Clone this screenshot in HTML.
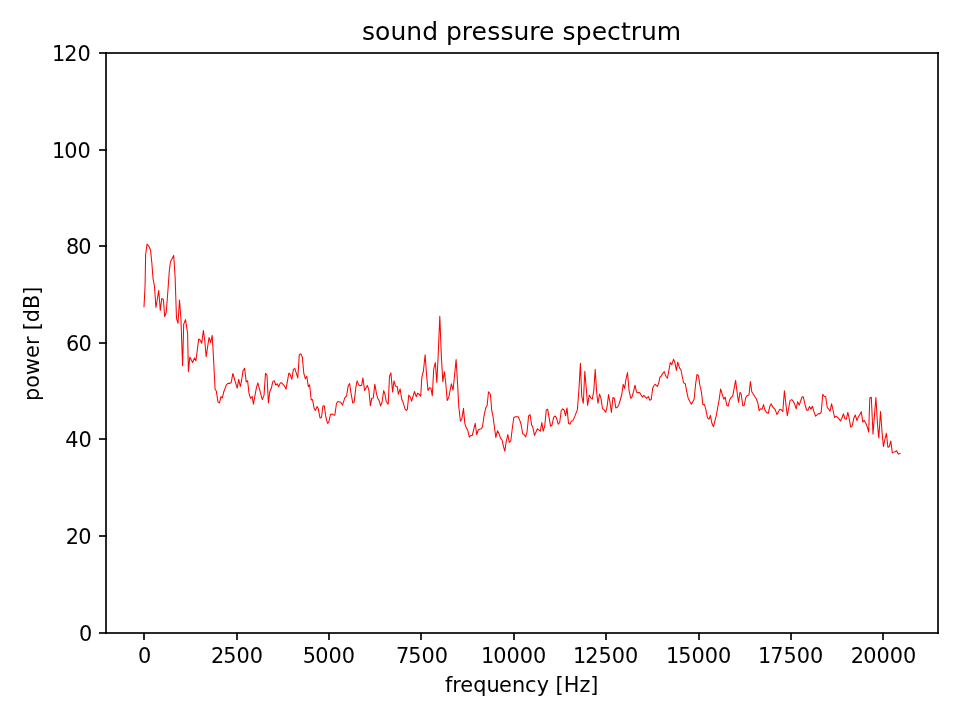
<!DOCTYPE html>
<html lang="en">
<head>
<meta charset="utf-8">
<title>sound pressure spectrum</title>
<style>
html,body{margin:0;padding:0;background:#fff;}
body{width:960px;height:720px;overflow:hidden;}
svg{display:block;}
text{font-family:"DejaVu Sans","Liberation Sans",sans-serif;fill:#000;}
.tl text,text.tl{font-size:20.833px;}
text.tt{font-size:25px;}
</style>
</head>
<body>
<svg width="960" height="720" viewBox="0 0 960 720">
<rect x="0" y="0" width="960" height="720" fill="#ffffff"/>
<g fill="rgba(0,0,0,0.835)" shape-rendering="crispEdges">
<rect x="105" y="52" width="2" height="582"/>
<rect x="937" y="52" width="2" height="582"/>
<rect x="105" y="52" width="834" height="2"/>
<rect x="105" y="632" width="834" height="2"/>
<rect x="99" y="632" width="8" height="2"/>
<rect x="99" y="535" width="8" height="2"/>
<rect x="99" y="438" width="8" height="2"/>
<rect x="99" y="342" width="8" height="2"/>
<rect x="99" y="245" width="8" height="2"/>
<rect x="99" y="149" width="8" height="2"/>
<rect x="99" y="52" width="8" height="2"/>
<rect x="143" y="633" width="2" height="7"/>
<rect x="236" y="633" width="2" height="7"/>
<rect x="328" y="633" width="2" height="7"/>
<rect x="420" y="633" width="2" height="7"/>
<rect x="513" y="633" width="2" height="7"/>
<rect x="605" y="633" width="2" height="7"/>
<rect x="698" y="633" width="2" height="7"/>
<rect x="790" y="633" width="2" height="7"/>
<rect x="882" y="633" width="2" height="7"/>
</g>
<text class="tl" x="79.03" y="640.60">0</text>
<text class="tl" x="65.84 78.32" y="543.60">20</text>
<text class="tl" x="65.18 78.50" y="446.60">40</text>
<text class="tl" x="65.92 78.54" y="350.60">60</text>
<text class="tl" x="65.92 78.26" y="253.60">80</text>
<text class="tl" x="52.00 64.27 77.52" y="157.60">100</text>
<text class="tl" x="51.94 64.35 77.60" y="60.60">120</text>
<text class="tl" x="138.07" y="663.40">0</text>
<text class="tl" x="210.90 223.31 236.56 249.81" y="663.40">2500</text>
<text class="tl" x="302.77 315.32 328.57 341.82" y="663.40">5000</text>
<text class="tl" x="395.92 408.33 421.58 434.83" y="663.40">7500</text>
<text class="tl" x="480.93 493.34 506.59 519.84 533.09" y="663.40">10000</text>
<text class="tl" x="572.92 585.33 598.58 611.83 625.08" y="663.40">12500</text>
<text class="tl" x="665.88 678.29 691.54 704.79 718.04" y="663.40">15000</text>
<text class="tl" x="757.99 770.33 783.58 796.83 810.08" y="663.40">17500</text>
<text class="tl" x="850.86 863.34 876.52 889.77 903.02" y="663.40">20000</text>
<text class="tl" x="445.03 452.36 460.33 473.35 486.57 499.06 512.09 525.08 536.66 548.83 555.53 563.79 579.38 590.25" y="691.60">frequency [Hz]</text>
<text class="tl" transform="translate(39.20,344.20) rotate(-90)" x="-56.89 -43.53 -30.87 -13.70 -0.87 6.69 14.07 22.04 35.26 49.48" y="0">power [dB]</text>
<text class="tt" x="362.09 375.08 390.41 406.37 422.19 438.16 446.01 461.84 471.61 487.17 500.44 513.43 529.25 539.01 554.44 562.56 575.69 591.69 607.11 620.89 630.66 641.04 656.86" y="39.50">sound pressure spectrum</text>
<path d="M144.0 306.7 L145.1 285.0 L145.6 255.0 L147.0 244.2 L148.6 245.8 L150.5 250.0 L151.8 262.5 L153.0 278.3 L154.5 286.5 L155.9 307.5 L156.8 302.5 L158.7 290.4 L160.3 310.4 L161.8 298.3 L163.4 299.6 L164.7 316.7 L166.2 312.5 L167.6 295.0 L169.3 270.8 L170.5 261.7 L173.7 255.4 L175.1 276.7 L176.5 318.3 L178.0 323.3 L179.5 300.0 L180.9 318.3 L182.6 365.8 L183.7 324.2 L185.5 319.6 L187.6 333.3 L188.4 371.7 L189.8 357.1 L192.6 362.5 L194.5 357.9 L195.9 360.8 L198.7 339.0 L200.1 340.0 L201.7 343.3 L203.4 330.4 L204.7 340.0 L206.2 356.7 L209.0 337.5 L210.6 342.5 L212.2 335.4 L213.4 355.8 L215.1 389.2 L216.3 391.0 L218.0 402.1 L219.5 402.9 L220.9 396.7 L222.3 397.9 L223.8 391.7 L226.5 384.6 L228.0 383.3 L229.8 383.5 L231.3 382.1 L232.8 373.5 L237.2 388.1 L238.7 379.4 L240.3 386.5 L241.5 381.0 L243.0 370.8 L244.6 368.3 L246.2 381.9 L247.6 380.7 L249.0 393.3 L250.5 398.3 L252.2 396.5 L253.4 404.2 L256.3 388.3 L257.8 382.9 L262.3 399.6 L264.0 395.4 L265.5 373.3 L267.0 375.4 L268.4 402.9 L269.8 391.7 L271.3 388.3 L272.8 381.7 L274.2 380.7 L275.7 385.0 L277.2 383.8 L278.7 386.7 L280.3 382.9 L281.5 382.7 L284.2 385.6 L286.0 389.2 L288.8 373.3 L289.8 373.8 L291.9 379.2 L293.3 369.6 L294.8 368.3 L297.8 377.9 L299.3 354.6 L300.8 353.8 L302.3 357.1 L303.8 373.3 L305.4 378.8 L306.8 376.2 L308.3 386.7 L309.6 384.8 L311.2 400.0 L312.5 399.6 L314.0 407.9 L315.4 410.4 L317.1 406.5 L318.3 408.8 L320.0 417.9 L321.5 417.5 L322.9 406.0 L324.3 405.8 L325.8 416.7 L327.5 423.3 L328.8 422.1 L330.4 414.6 L331.8 414.0 L334.8 415.4 L336.5 403.3 L337.9 401.5 L340.8 402.3 L342.5 405.2 L344.8 397.9 L346.6 395.8 L348.2 385.8 L349.6 383.6 L351.2 394.4 L352.8 403.1 L354.2 402.1 L355.8 387.9 L357.1 380.9 L358.8 384.9 L360.2 385.8 L361.7 385.2 L362.9 377.9 L364.6 390.4 L367.3 385.4 L368.8 389.6 L370.4 405.8 L371.7 398.3 L373.3 397.9 L374.8 384.2 L376.5 393.8 L377.9 398.8 L379.1 400.4 L380.6 405.9 L382.1 402.0 L383.7 390.6 L384.9 394.0 L386.3 401.7 L388.2 404.2 L389.5 376.2 L390.9 372.9 L392.6 392.1 L394.0 380.8 L395.5 386.2 L397.2 386.5 L398.4 394.2 L400.1 388.8 L401.8 399.6 L403.0 402.1 L405.1 409.2 L406.3 410.4 L407.3 409.6 L408.8 395.0 L410.1 396.7 L411.6 401.2 L414.5 391.5 L416.2 396.7 L417.6 393.3 L419.0 394.2 L420.7 396.2 L421.8 377.5 L423.4 371.2 L425.1 354.8 L426.8 377.5 L428.0 390.4 L429.5 387.7 L430.9 387.9 L432.3 395.8 L433.7 369.2 L435.3 362.5 L436.8 382.5 L438.2 355.0 L439.8 316.2 L441.3 355.0 L442.8 381.7 L444.4 371.7 L445.7 382.5 L447.2 400.4 L448.7 397.5 L451.4 383.8 L453.1 390.0 L454.6 374.8 L456.1 359.5 L457.5 382.5 L458.8 406.7 L460.4 421.2 L461.8 419.2 L463.5 408.3 L464.8 423.3 L466.2 427.5 L467.9 430.8 L469.3 437.1 L470.8 435.4 L472.3 435.4 L473.8 429.2 L475.2 423.3 L476.7 434.6 L478.2 430.0 L479.6 429.2 L481.2 428.8 L482.5 426.7 L484.0 415.8 L485.7 408.1 L487.1 405.6 L488.5 391.7 L490.4 394.2 L491.7 410.2 L492.9 415.8 L494.6 428.3 L495.8 437.5 L497.5 430.7 L499.2 434.2 L500.4 437.9 L502.1 440.0 L503.3 445.8 L504.8 451.2 L506.2 441.7 L507.8 434.6 L509.3 442.3 L510.8 440.8 L512.3 428.3 L513.8 417.5 L515.4 416.7 L518.2 416.7 L519.8 420.4 L521.2 425.0 L522.7 433.8 L524.2 434.6 L525.6 436.9 L527.0 432.3 L528.6 415.8 L530.1 414.6 L531.6 425.0 L532.8 427.1 L534.5 435.4 L537.4 428.8 L540.3 431.2 L541.8 422.5 L543.2 431.2 L544.7 426.2 L546.3 410.0 L547.7 409.3 L549.1 417.9 L550.6 426.2 L552.0 425.0 L553.7 417.1 L555.3 416.0 L556.6 418.3 L558.2 424.2 L559.7 422.5 L561.2 410.8 L562.7 408.8 L564.1 410.0 L565.6 415.8 L567.0 407.9 L568.5 423.3 L569.9 424.2 L571.3 421.2 L573.0 420.4 L574.5 417.1 L577.4 409.6 L579.0 388.3 L580.4 363.3 L581.7 395.8 L583.3 403.3 L584.8 371.2 L586.2 387.5 L587.6 405.4 L589.3 394.9 L590.8 397.9 L592.3 399.1 L593.8 390.5 L595.2 369.2 L596.7 392.7 L597.9 403.3 L599.6 394.1 L601.0 398.4 L602.5 408.8 L604.0 409.6 L605.7 412.3 L607.1 406.7 L608.5 394.6 L610.0 402.5 L611.4 412.5 L612.9 397.5 L614.3 398.2 L615.8 407.9 L617.3 407.3 L618.8 405.0 L621.7 395.0 L623.2 384.3 L624.6 388.3 L626.0 379.2 L627.5 372.5 L629.0 390.0 L630.7 398.3 L632.1 396.7 L633.5 391.7 L635.0 385.2 L636.5 392.1 L637.9 392.7 L639.6 392.5 L642.3 397.1 L643.8 395.4 L646.6 398.3 L648.3 396.5 L649.8 400.2 L651.3 399.2 L652.7 387.9 L654.1 385.4 L655.3 384.3 L657.4 386.5 L658.7 383.3 L659.9 377.1 L661.3 376.0 L662.8 373.3 L664.3 371.7 L665.8 376.2 L667.4 378.2 L668.7 371.7 L670.3 362.5 L671.8 364.6 L673.5 359.3 L674.9 362.5 L676.4 370.4 L677.8 362.1 L679.5 367.9 L681.0 370.0 L682.4 377.5 L683.7 382.9 L685.3 383.8 L686.6 390.8 L688.1 397.9 L689.7 401.2 L691.3 404.2 L694.1 399.2 L695.6 384.2 L697.0 374.4 L698.5 375.8 L700.0 386.0 L701.4 391.9 L702.9 404.8 L704.5 404.6 L705.8 409.4 L707.5 417.9 L709.0 419.2 L710.4 415.4 L711.9 423.3 L713.5 426.7 L716.2 415.8 L719.1 400.0 L720.6 389.0 L722.1 394.0 L723.8 399.2 L725.2 397.1 L726.7 405.0 L728.2 406.2 L729.6 400.0 L731.0 397.5 L732.7 396.2 L734.0 389.2 L735.6 380.4 L737.1 392.1 L738.5 402.3 L740.0 392.3 L741.2 394.2 L742.8 405.8 L744.2 405.4 L745.8 397.5 L747.3 395.4 L749.0 395.0 L750.4 381.5 L751.8 391.7 L753.3 394.2 L756.2 398.8 L757.7 402.5 L759.2 410.8 L760.7 408.8 L762.1 409.2 L763.5 404.6 L765.0 410.4 L766.7 412.5 L768.3 413.3 L769.7 406.7 L771.1 403.8 L772.7 406.9 L775.3 409.8 L777.0 414.6 L778.4 411.7 L779.9 409.2 L781.3 409.8 L782.8 411.7 L784.4 390.7 L785.9 404.2 L787.3 415.8 L788.8 407.5 L790.1 400.4 L791.8 399.6 L793.2 401.2 L794.7 404.2 L796.2 408.8 L797.6 401.7 L799.2 405.2 L800.7 400.8 L802.2 396.7 L803.4 397.1 L805.1 405.0 L806.6 410.0 L808.0 410.4 L809.5 406.5 L810.9 409.3 L812.4 406.2 L813.8 411.2 L815.5 416.2 L817.0 415.0 L818.4 413.5 L819.7 414.0 L821.2 412.1 L822.8 394.3 L824.2 396.2 L825.7 396.8 L827.2 407.5 L828.4 408.8 L830.1 411.2 L831.6 403.8 L833.0 410.0 L834.5 417.5 L836.3 416.2 L838.8 418.6 L840.5 421.0 L842.1 417.5 L843.5 413.8 L845.0 418.8 L846.4 419.2 L847.8 412.3 L848.8 416.7 L850.7 427.1 L852.2 425.8 L853.8 418.3 L855.3 415.0 L857.0 420.7 L858.4 416.7 L859.8 414.6 L861.3 411.8 L862.8 422.1 L864.2 420.4 L865.8 423.3 L867.2 426.7 L868.7 432.1 L869.8 397.9 L871.3 397.3 L873.0 434.2 L874.5 415.0 L875.9 397.5 L877.6 425.8 L878.8 437.9 L880.5 411.5 L882.0 431.7 L883.4 446.4 L885.1 438.3 L886.4 433.3 L887.9 447.2 L889.3 446.7 L890.8 441.0 L892.3 452.9 L893.8 452.1 L895.2 451.7 L896.7 450.7 L898.2 454.0 L900.0 453.5" fill="none" stroke="#ff0000" stroke-width="1.04" stroke-linejoin="round" stroke-linecap="square"/>
</svg>
</body>
</html>
